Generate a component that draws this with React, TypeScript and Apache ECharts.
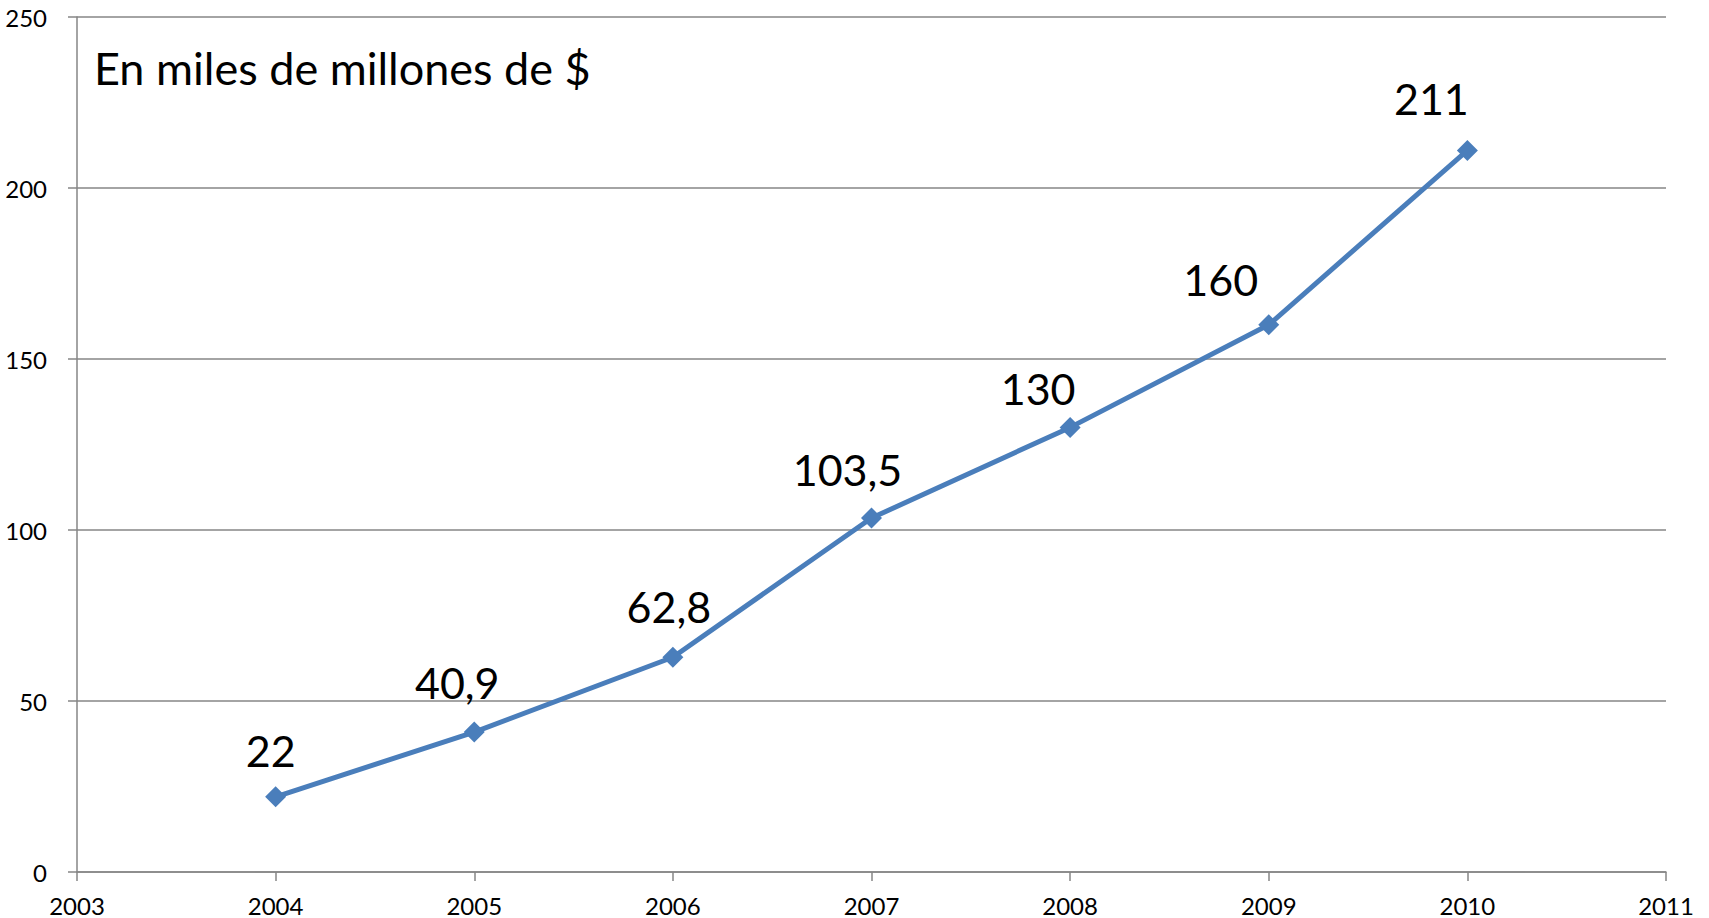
import React, { useEffect, useRef } from "react";
import * as echarts from "echarts";

const years = [2004, 2005, 2006, 2007, 2008, 2009, 2010];
const values = [22, 40.9, 62.8, 103.5, 130, 160, 211];
const xTicksMin = 2003;
const xTicksMax = 2011;
const yMax = 250;
const yStep = 50;
const titleText = "En miles de millones de $";
// label offsets (px) relative to each point
const labelOffsets: [number, number][] = [
  [-5, -46],
  [-17, -50],
  [-4, -51],
  [-24, -49],
  [-32, -39],
  [-48, -45],
  [-36, -52],
];

const FONT = "Lato, 'Open Sans', sans-serif";

export default function App() {
  const ref = useRef<HTMLDivElement>(null);
  useEffect(() => {
    document.body.style.margin = "0";
    const chart = echarts.init(ref.current!, undefined, { renderer: "svg" });
    chart.setOption({
      animation: false,
      backgroundColor: "#ffffff",
      textStyle: { fontFamily: FONT },
      grid: { left: 77, right: 43, top: 17, bottom: 46, containLabel: false },
      graphic: [
        {
          type: "text",
          left: 94,
          top: 45,
          style: {
            text: titleText,
            font: `45px ${FONT}`,
            fill: "#000000",
          },
        },
      ],
      xAxis: {
        type: "value",
        min: xTicksMin,
        max: xTicksMax,
        interval: 1,
        axisLine: { show: true, onZero: false, lineStyle: { color: "#868686", width: 1.5 } },
        axisTick: { show: true, inside: false, length: 9, lineStyle: { color: "#868686", width: 1.5 } },
        splitLine: { show: false },
        axisLabel: {
          color: "#000000",
          fontSize: 24,
          lineHeight: 20,
          fontFamily: FONT,
          margin: 23,
          formatter: (v: number) => String(v),
        },
      },
      yAxis: {
        type: "value",
        min: 0,
        max: yMax,
        interval: yStep,
        axisLine: { show: true, lineStyle: { color: "#868686", width: 1.5 } },
        axisTick: { show: true, inside: false, length: 9, lineStyle: { color: "#868686", width: 1.5 } },
        splitLine: { show: true, lineStyle: { color: "#868686", width: 1.5 } },
        axisLabel: {
          color: "#000000",
          fontSize: 24,
          fontFamily: FONT,
          margin: 30,
        },
      },
      series: [
        {
          type: "line",
          data: years.map((y, i) => ({
            value: [y, values[i]],
            label: { offset: labelOffsets[i] },
          })),
          symbol: "diamond",
          symbolSize: 21,
          lineStyle: { color: "#4a7ebb", width: 5 },
          itemStyle: { color: "#4a7ebb" },
          label: {
            show: true,
            position: "inside",
            color: "#000000",
            fontSize: 43,
            fontFamily: FONT,
            formatter: (p: any) => String(p.value[1]).replace(".", ","),
          },
        },
      ],
    });
    return () => chart.dispose();
  }, []);
  return <div ref={ref} style={{ width: 1709, height: 918 }} />;
}
